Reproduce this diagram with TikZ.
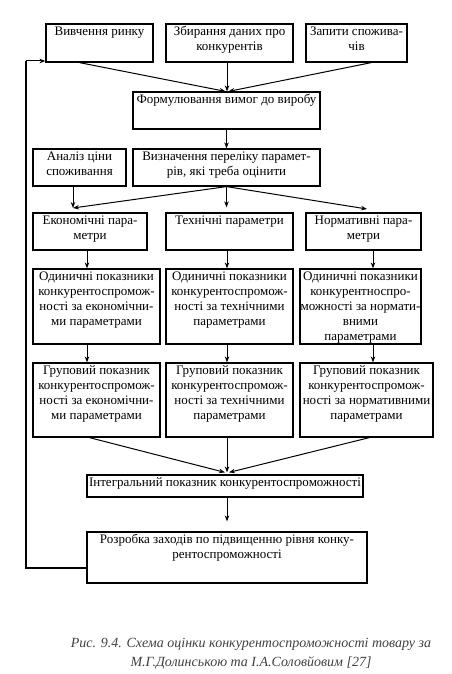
\documentclass[tikz,border=0pt]{standalone}
\usepackage{fontspec}
\setmainfont{Liberation Serif}
\usetikzlibrary{arrows.meta,calc,fit}
\begin{document}
\begin{tikzpicture}[x=1pt,y=-1pt,
  box/.style={draw=black,line width=1.2pt,inner sep=0pt},
  lbl/.style={anchor=north,align=center,inner sep=0pt,font=\fontsize{13}{15}\selectfont},
  arr/.style={line width=1pt,-{Stealth[length=6pt,width=4.5pt]}},
  fb/.style={line width=1.8pt}]
\useasboundingbox (0,0) rectangle (451,674);
% boxes
\node[box,fit={(46,24)(153,62)}] (r1) {};
\node[box,fit={(166,24)(293,62)}] (r2) {};
\node[box,fit={(306,24)(407,62)}] (r3) {};
\node[box,fit={(133,92)(320,129)}] (f) {};
\node[box,fit={(33,149)(126,186)}] (a) {};
\node[box,fit={(133,149)(320,186)}] (v) {};
\node[box,fit={(33,213)(147,250)}] (e1) {};
\node[box,fit={(166,213)(293,250)}] (e2) {};
\node[box,fit={(306,213)(421,250)}] (e3) {};
\node[box,fit={(33,269)(160,344)}] (o1) {};
\node[box,fit={(166,269)(293,344)}] (o2) {};
\node[box,fit={(300,269)(421,344)}] (o3) {};
\node[box,fit={(33,363)(160,437)}] (g1) {};
\node[box,fit={(166,363)(293,437)}] (g2) {};
\node[box,fit={(300,363)(433,437)}] (g3) {};
\node[box,fit={(87,475)(363,497)}] (i) {};
\node[box,fit={(87,532)(367,583)}] (p) {};
% labels
\node[lbl] (r1t) at ($(r1.north)+(0,3)$) {Вивчення ринку};
\node[lbl] (r2t) at ($(r2.north)+(0,3)$) {Збирання даних про\\конкурентів};
\node[lbl] (r3t) at ($(r3.north)+(0,3)$) {Запити спожива-\\чів};
\node[lbl] (ft) at ($(f.north)+(0,3)$) {Формулювання вимог до виробу};
\node[lbl] (at) at ($(a.north)+(0,3)$) {Аналіз ціни\\споживання};
\node[lbl] (vt) at ($(v.north)+(0,3)$) {Визначення переліку парамет-\\рів, які треба оцінити};
\node[lbl] (e1t) at ($(e1.north)+(0,3)$) {Економічні пара-\\метри};
\node[lbl] (e2t) at ($(e2.north)+(0,3)$) {Технічні параметри};
\node[lbl] (e3t) at ($(e3.north)+(0,3)$) {Нормативні пара-\\метри};
\node[lbl] (o1t) at ($(o1.north)+(0,3)$) {Одиничні показники\\конкурентоспромож-\\ності за економічни-\\ми параметрами};
\node[lbl] (o2t) at ($(o2.north)+(0,3)$) {Одиничні показники\\конкурентоспромож-\\ності за технічними\\параметрами};
\node[lbl] (o3t) at ($(o3.north)+(0,3)$) {Одиничні показники\\конкурентноспро-\\можності за нормати-\\вними\\параметрами};
\node[lbl] (g1t) at ($(g1.north)+(0,3)$) {Груповий показник\\конкурентоспромож-\\ності за економічни-\\ми параметрами};
\node[lbl] (g2t) at ($(g2.north)+(0,3)$) {Груповий показник\\конкурентоспромож-\\ності за технічними\\параметрами};
\node[lbl] (g3t) at ($(g3.north)+(0,3)$) {Груповий показник\\конкурентоспромож-\\ності за нормативними\\параметрами};
\node[lbl] (it) at ($(i.north)+(0,3)$) {Інтегральний показник конкурентоспроможності};
\node[lbl] (pt) at ($(p.north)+(0,3)$) {Розробка заходів по підвищенню рівня конку-\\рентоспроможності};
% column coordinates
\coordinate (c1) at (87,0);
\coordinate (c2) at (227,0);
\coordinate (c3) at (373,0);
\coordinate (ein1) at (73,208);
\coordinate (ein3) at (367,209);
% arrows top
\draw[arr] ($(r1.south west)+(34,0)$) -- ($(f.north)+(-1,0)$);
\draw[arr] (r2.south -| c2) -- (f.north -| c2);
\draw[arr] ($(r3.south west)+(66,0)$) -- ($(f.north)+(2,0)$);
\draw[arr] (f.south) -- (v.north);
\draw[arr] (a.south -| ein1) -- (ein1);
\draw[arr] (v.south) -- (ein1);
\draw[arr] (v.south) -- ($(e2.north -| v.south)+(0,-5)$);
\draw[arr] (v.south) -- (ein3);
% columns
\draw[arr] (e1.south -| c1) -- (o1.north -| c1);
\draw[arr] (e2.south -| c2) -- (o2.north -| c2);
\draw[arr] (e3.south -| c3) -- (o3.north -| c3);
\draw[arr] (o1.south -| c1) -- (g1.north -| c1);
\draw[arr] (o2.south -| c2) -- (g2.north -| c2);
\draw[arr] (o3.south -| c3) -- (g3.north -| c3);
% to integral
\draw[arr] ($(g1.south west)+(57,0)$) -- ($(i.north)+(0,-2)$);
\draw[arr] (g2.south -| c2) -- ($(i.north -| c2)+(0,-2)$);
\draw[arr] ($(g3.south west)+(70,0)$) -- ($(i.north)+(4,-2)$);
\draw[arr,shorten >=10pt] (i.south -| c2) -- (p.north -| c2);
% feedback
\coordinate (fb1) at (26,568);
\coordinate (fb2) at (26,61);
\draw[fb] (p.west |- fb1) -- (fb1) -- (fb2);
\draw[arr] (fb2) -- (fb2 -| r1.west);
% caption
\node[align=center,inner sep=0pt,text=black!75,font=\itshape\fontsize{14}{19}\selectfont] (cap) at (251,654)
 {Рис. 9.4. Схема оцінки конкурентоспроможності товару за\\М.Г.Долинською та І.А.Соловйовим [27]};
\end{tikzpicture}
\end{document}
